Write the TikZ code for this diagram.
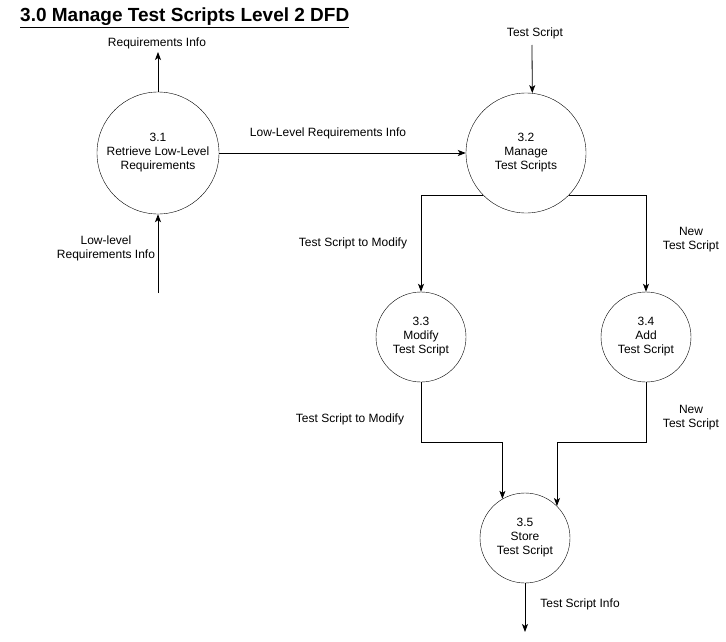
\documentclass[tikz,border=0pt]{standalone}
\usepackage{fontspec}
\setmainfont{Liberation Sans}
\usetikzlibrary{arrows.meta}

\begin{document}
\begin{tikzpicture}[x=1pt,y=-1pt,
  proc/.style={draw,circle,minimum size=#1,inner sep=0pt,align=center,
    font=\fontsize{12}{14}\selectfont},
  lbl/.style={align=center,font=\fontsize{12}{14}\selectfont},
  flow/.style={-{Stealth[length=8pt,width=6pt,inset=2pt]},line width=0.8pt}]
\useasboundingbox (0,0) rectangle (726,642);

\node[anchor=base west,inner sep=0pt,font=\bfseries\fontsize{19}{22}\selectfont] (title) at (20,22)
  {\underline{3.0 Manage Test Scripts Level 2 DFD}};

\node[proc=122pt] (p31) at (158,153) {3.1\\Retrieve Low-Level\\Requirements};
\node[proc=120pt] (p32) at (526,153) {3.2\\Manage\\Test Scripts};
\node[proc=90pt] (p33) at (421,337) {3.3\\Modify\\Test Script};
\node[proc=90pt] (p34) at (646,337) {3.4\\Add\\Test Script};
\node[proc=90pt] (p35) at (525,538) {3.5\\Store\\Test Script};

\coordinate (reqout) at (158,52);
\coordinate (reqin) at (158,293);
\coordinate (tsin) at (532,45);
\coordinate (tsout) at (525,632);

\node[lbl] (lreqout) at (157,43) {Requirements Info};
\node[lbl] (lreqin) at (106,248) {Low-level\\Requirements Info};
\node[lbl] (llow) at (328,133) {Low-Level Requirements Info};
\node[lbl] (ltsin) at (535,33) {Test Script};
\node[lbl] (lmod1) at (353,243) {Test Script to Modify};
\node[lbl] (lnew1) at (691,240) {New\\Test Script};
\node[lbl] (lmod2) at (350,419) {Test Script to Modify};
\node[lbl] (lnew2) at (691,418) {New\\Test Script};
\node[lbl] (linfo) at (580,604) {Test Script Info};

\draw[flow] (p31.north) -- (reqout);
\draw[flow] (reqin) -- (p31.south);
\draw[flow] (p31.east) -- (p32.west);
\draw[flow] (tsin) -- (p32.84);
\draw[flow] (p32.-135) -| (p33.north);
\draw[flow] (p32.-45) -| (p34.north);
\draw[flow] (p33.south) -- ++(0,60) -| (p35.120);
\draw[flow] (p34.south) -- ++(0,60) -| (p35.45);
\draw[flow] (p35.south) -- (tsout);
\end{tikzpicture}
\end{document}
